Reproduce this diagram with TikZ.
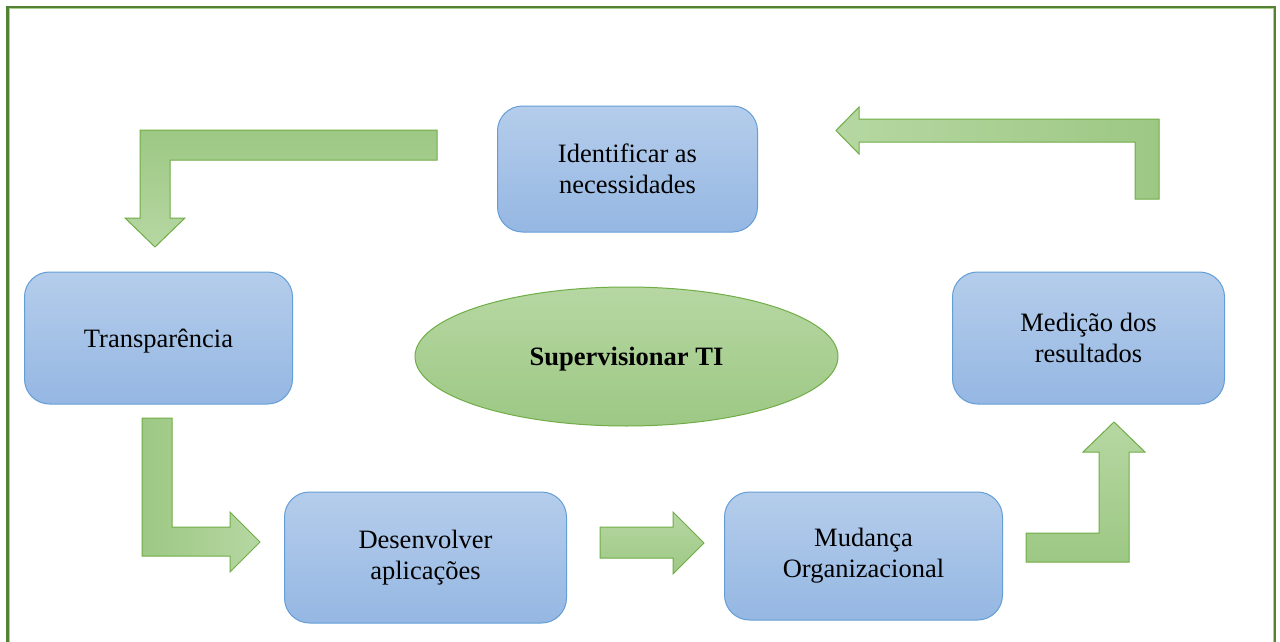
\documentclass[tikz,border=0pt]{standalone}
\usepackage{fontspec}
\setmainfont{Liberation Serif}
\usetikzlibrary{shapes.geometric}
\definecolor{boxtop}{RGB}{181,205,235}
\definecolor{boxbot}{RGB}{149,183,227}
\definecolor{boxline}{RGB}{100,158,214}
\definecolor{grdark}{RGB}{157,200,132}
\definecolor{grlight}{RGB}{182,215,162}
\definecolor{grline}{RGB}{112,173,71}
\definecolor{framedark}{RGB}{84,130,53}
\definecolor{framelight}{RGB}{169,209,142}
\tikzset{
  stepbox/.style={draw=boxline, line width=1pt, rounded corners=25pt,
    top color=boxtop, bottom color=boxbot, inner sep=0pt, align=center,
    font=\fontsize{26.5}{31}\selectfont},
  garrow/.style={draw=grline, line width=1pt, line join=miter},
  centre/.style={ellipse, draw=grline, line width=1pt, top color=grlight,
    bottom color=grdark, inner sep=0pt, minimum width=423pt, minimum height=139pt,
    font=\fontsize{26.5}{31}\selectfont\bfseries}
}
\begin{document}
\begin{tikzpicture}[x=1pt,y=-1pt]
\clip (0,0) rectangle (1280,642);
\fill[white] (0,0) rectangle (1280,642);
% frame
\draw[framedark, line width=2.4pt] (7.5,660) -- (7.5,6.8) -- (1275.2,6.8) -- (1275.2,660);
\draw[framelight, line width=0.9pt] (9.6,660) -- (9.6,8.9) -- (1273.1,8.9) -- (1273.1,660);
% boxes
\node[stepbox, minimum width=260pt, minimum height=126pt] (ident) at (627.5,169) {Identificar as\\necessidades};
\node[stepbox, minimum width=268pt, minimum height=132pt, text depth=0pt] (transp) at (158.5,338) {Transparência};
\node[stepbox, minimum width=272pt, minimum height=132pt] (medic) at (1088.5,338) {Medição dos\\resultados};
\node[stepbox, minimum width=282pt, minimum height=131pt] (desenv) at (425.5,557.5) {Desenvolver\\aplicações};
\node[stepbox, minimum width=278pt, minimum height=128pt] (mudanca) at (863.5,556) {Mudança\\Organizacional};
\node[centre, text depth=0pt] (superv) at (626.5,356.5) {Supervisionar TI};
% block arrows
\path[garrow, top color=grdark, bottom color=grlight]
  (437,130) -- (140,130) -- (140,218) -- (125,218) -- (155,247) -- (185,218)
  -- (170,218) -- (170,160) -- (437,160) -- cycle;
\path[garrow, left color=grlight, right color=grdark]
  (1159,199) -- (1159,119) -- (859,119) -- (859,107) -- (836,130.5) -- (859,154)
  -- (859,142) -- (1135,142) -- (1135,199) -- cycle;
\path[garrow, left color=grdark, right color=grlight]
  (142,418) -- (172,418) -- (172,527) -- (230,527) -- (230,512) -- (260,542)
  -- (230,572) -- (230,556) -- (142,556) -- cycle;
\path[garrow, top color=grlight, bottom color=grdark]
  (1026,533) -- (1099,533) -- (1099,452) -- (1083,452) -- (1114,422) -- (1145,452)
  -- (1129,452) -- (1129,562) -- (1026,562) -- cycle;
\path[garrow, top color=grlight, bottom color=grdark]
  (600,527) -- (673,527) -- (673,512) -- (704,543) -- (673,574) -- (673,558)
  -- (600,558) -- cycle;
\end{tikzpicture}
\end{document}
